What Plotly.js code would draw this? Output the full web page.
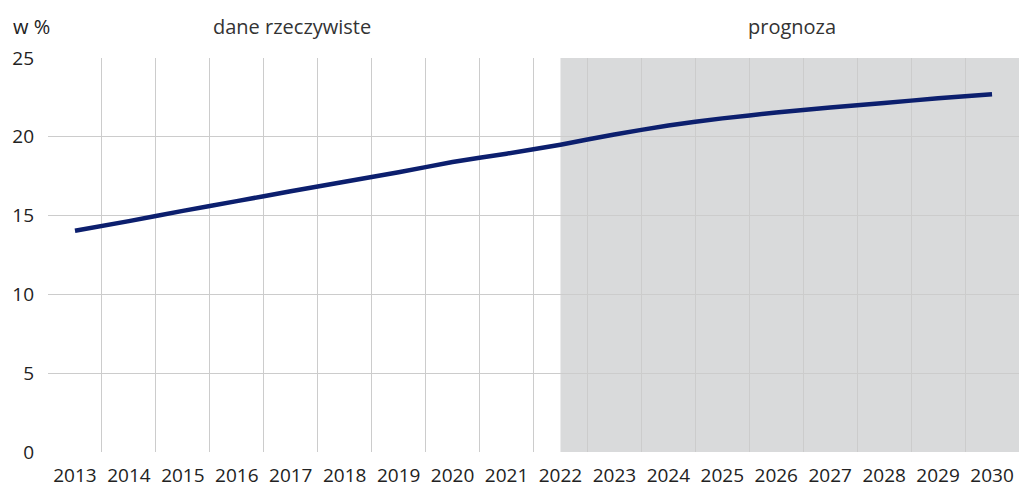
<!DOCTYPE html>
<html>
<head>
<meta charset="utf-8">
<script src="https://cdn.plot.ly/plotly-3.0.1.min.js"></script>
<style>html,body{margin:0;padding:0;background:#fff;}#chart{width:1019px;height:490px;}</style>
</head>
<body>
<div id="chart"></div>
<script>
const years = ['2013','2014','2015','2016','2017','2018','2019','2020','2021','2022','2023','2024','2025','2026','2027','2028','2029','2030'];
const values = [14.04,14.65,15.3,15.92,16.54,17.15,17.75,18.4,18.93,19.5,20.15,20.72,21.17,21.54,21.86,22.15,22.44,22.7];
const yTicks = [0,5,10,15,20,25];
const forecastStart = '2022';
const labelActual = 'dane rzeczywiste';
const labelForecast = 'prognoza';
const unitLabel = 'w %';

const font = "'Open Sans', 'Noto Sans', sans-serif";
const startIdx = years.indexOf(forecastStart);

const trace = {
  x: years, y: values, type: 'scatter', mode: 'lines',
  line: {color: '#0c1f6e', width: 4.5, shape: 'spline', smoothing: 0.3},
  hoverinfo: 'skip'
};

const layout = {
  width: 1019, height: 490,
  margin: {l: 48, r: 0, t: 58, b: 38},
  paper_bgcolor: '#ffffff', plot_bgcolor: '#ffffff',
  showlegend: false,
  font: {family: font, color: '#222', size: 19},
  xaxis: {
    type: 'category', tickson: 'boundaries', range: [-0.5, years.length - 0.5],
    showgrid: true, gridcolor: '#cccccc', gridwidth: 1,
    ticks: '', showline: false, zeroline: false,
    tickfont: {family: font, size: 19, color: '#222'},
    ticklabelstandoff: 10, fixedrange: true
  },
  yaxis: {
    range: [0, 25], tickvals: yTicks, ticktext: yTicks.map(String),
    showgrid: true, gridcolor: '#cccccc', gridwidth: 1,
    zeroline: false, showline: false, ticks: '',
    tickfont: {family: font, size: 19, color: '#222'},
    ticklabelstandoff: 13, fixedrange: true
  },
  shapes: [{
    type: 'rect', layer: 'below', xref: 'x', yref: 'paper',
    x0: startIdx, x1: years.length - 0.5, y0: 0, y1: 1,
    fillcolor: '#d9dadb', line: {width: 0}
  }],
  annotations: [
    {text: unitLabel, xref: 'paper', yref: 'paper', x: -0.038, y: 1.0, yshift: 16,
     xanchor: 'left', yanchor: 'bottom', showarrow: false,
     font: {family: font, size: 20, color: '#222'}},
    {text: labelActual, xref: 'paper', yref: 'paper', x: 0.251, y: 1.0, yshift: 16,
     xanchor: 'center', yanchor: 'bottom', showarrow: false,
     font: {family: font, size: 20, color: '#333'}},
    {text: labelForecast, xref: 'paper', yref: 'paper', x: 0.766, y: 1.0, yshift: 16,
     xanchor: 'center', yanchor: 'bottom', showarrow: false,
     font: {family: font, size: 20, color: '#333'}}
  ]
};

Plotly.newPlot('chart', [trace], layout, {displayModeBar: false, staticPlot: true});
</script>
</body>
</html>
